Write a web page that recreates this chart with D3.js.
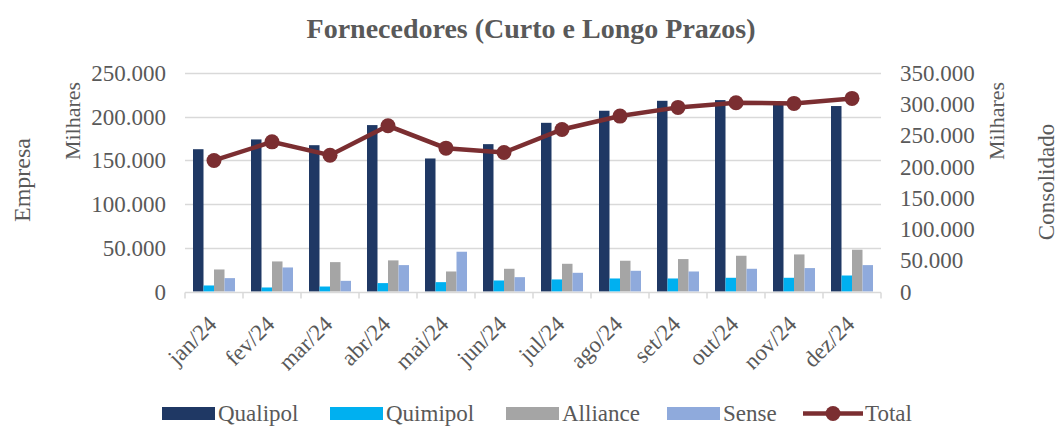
<!DOCTYPE html>
<html>
<head>
<meta charset="utf-8">
<script src="https://cdn.jsdelivr.net/npm/d3@7"></script>
<style>
	body { margin: 0; background: #fff; }
	svg text { font-family: "Liberation Serif", "Times New Roman", serif; fill: #595959; }
</style>
</head>
<body>
<div id="chart-area"></div>
<script>
// Data (values in R$)
let months = ["jan/24", "fev/24", "mar/24", "abr/24", "mai/24", "jun/24", "jul/24", "ago/24", "set/24", "out/24", "nov/24", "dez/24"];
let qualipol = [162800, 174000, 167400, 190400, 152200, 168600, 193000, 206800, 218200, 219000, 216000, 212200];
let quimipol = [6900, 4600, 5700, 9600, 10700, 12600, 13800, 14900, 14900, 15700, 15700, 18300];
let alliance = [25200, 34400, 33600, 35600, 22900, 26000, 31700, 35200, 37100, 40900, 42400, 47800];
let sense = [15300, 27500, 12200, 30200, 45500, 16400, 21400, 23700, 22900, 26000, 26800, 30200];
let total = [209900, 239700, 218300, 265400, 229600, 222600, 259500, 281000, 294900, 302400, 301300, 309300];

let leftTicks = [0, 50000, 100000, 150000, 200000, 250000];
let rightTicks = [0, 50000, 100000, 150000, 200000, 250000, 300000, 350000];

let seriesNames = ["Qualipol", "Quimipol", "Alliance", "Sense"];
let seriesValues = [qualipol, quimipol, alliance, sense];
let colors = ["#1F3864", "#00B0F0", "#A5A5A5", "#8FAADC"];
let lineColor = "#7B2E31";

let width = 1057,
	height = 426;

let margin = {top: 73, right: 176, bottom: 135, left: 185};

let svg = d3.select("#chart-area")
	.append("svg")
	.attr("width", width)
	.attr("height", height);

let fmt = v => d3.format(",")(v).replace(/,/g, ".");

// Scales
let x0 = d3.scaleBand()
	.domain(months)
	.range([margin.left, width - margin.right]);

let groupWidth = 42;
let x1 = d3.scaleBand()
	.domain(seriesNames)
	.range([0, groupWidth]);

let yLeft = d3.scaleLinear()
	.domain([0, 250000])
	.range([height - margin.bottom + 0.5, margin.top]);

let yRight = d3.scaleLinear()
	.domain([0, 350000])
	.range([height - margin.bottom + 0.5, margin.top]);

// Gridlines
svg.append("g")
	.selectAll("line")
	.data(leftTicks.slice(1))
	.enter()
	.append("line")
	.attr("x1", margin.left)
	.attr("x2", width - margin.right)
	.attr("y1", d => Math.round(yLeft(d)) + 0.5)
	.attr("y2", d => Math.round(yLeft(d)) + 0.5)
	.attr("stroke", "#D9D9D9")
	.attr("stroke-width", 1.5);

// Bars
let groups = svg.append("g")
	.selectAll("g")
	.data(months)
	.enter()
	.append("g")
	.attr("transform", d => "translate(" + (x0(d) + (x0.bandwidth() - groupWidth) / 2) + ",0)");

groups.selectAll("rect")
	.data((m, i) => seriesNames.map((s, k) => ({s: s, v: seriesValues[k][i], c: colors[k]})))
	.enter()
	.append("rect")
	.attr("x", d => x1(d.s))
	.attr("width", x1.bandwidth())
	.attr("y", d => yLeft(d.v))
	.attr("height", d => yLeft(0) - yLeft(d.v))
	.attr("fill", d => d.c);

// X axis line with ticks between bands
let baseY = Math.round(yLeft(0)) + 0.5;
svg.append("line")
	.attr("x1", margin.left)
	.attr("x2", width - margin.right)
	.attr("y1", baseY)
	.attr("y2", baseY)
	.attr("stroke", "#D9D9D9")
	.attr("stroke-width", 1.5);

svg.append("g")
	.selectAll("line")
	.data(months.concat(["end"]))
	.enter()
	.append("line")
	.attr("x1", (d, i) => margin.left + i * x0.step())
	.attr("x2", (d, i) => margin.left + i * x0.step())
	.attr("y1", baseY)
	.attr("y2", baseY + 6)
	.attr("stroke", "#D9D9D9")
	.attr("stroke-width", 1.5);

// X labels
svg.append("g")
	.selectAll("text")
	.data(months)
	.enter()
	.append("text")
	.attr("text-anchor", "end")
	.attr("font-size", 23)
	.attr("transform", d => "translate(" + (x0(d) + x0.bandwidth() / 2 + 4) + "," + (baseY + 33) + ")rotate(-45)")
	.text(d => d);

// Left axis labels
svg.append("g")
	.selectAll("text")
	.data(leftTicks)
	.enter()
	.append("text")
	.attr("text-anchor", "end")
	.attr("font-size", 23)
	.attr("x", 166)
	.attr("y", d => yLeft(d) + 8)
	.text(d => fmt(d));

// Right axis labels
svg.append("g")
	.selectAll("text")
	.data(rightTicks)
	.enter()
	.append("text")
	.attr("text-anchor", "start")
	.attr("font-size", 23)
	.attr("x", 900)
	.attr("y", d => yRight(d) + 8)
	.text(d => fmt(d));

// Total line
let line = d3.line()
	.x((d, i) => x0(months[i]) + x0.bandwidth() / 2)
	.y(d => yRight(d));

svg.append("path")
	.datum(total)
	.attr("d", line)
	.attr("fill", "none")
	.attr("stroke", lineColor)
	.attr("stroke-width", 4.5);

svg.append("g")
	.selectAll("circle")
	.data(total)
	.enter()
	.append("circle")
	.attr("cx", (d, i) => x0(months[i]) + x0.bandwidth() / 2)
	.attr("cy", d => yRight(d))
	.attr("r", 7.5)
	.attr("fill", lineColor);

// Title
svg.append("text")
	.attr("x", 531)
	.attr("y", 38)
	.attr("text-anchor", "middle")
	.attr("font-size", 28)
	.attr("font-weight", "bold")
	.text("Fornecedores (Curto e Longo Prazos)");

// Axis titles
let axisTitles = [
	{t: "Empresa", x: 22, y: 180, s: 24},
	{t: "Milhares", x: 72, y: 121, s: 22},
	{t: "Milhares", x: 996, y: 121, s: 22},
	{t: "Consolidado", x: 1046, y: 182, s: 23}
];
svg.append("g")
	.selectAll("text")
	.data(axisTitles)
	.enter()
	.append("text")
	.attr("text-anchor", "middle")
	.attr("dominant-baseline", "central")
	.attr("font-size", d => d.s)
	.attr("transform", d => "translate(" + d.x + "," + d.y + ")rotate(-90)")
	.text(d => d.t);

// Legend
let legendX = [162, 330, 506, 667];
let legend = svg.append("g");
seriesNames.forEach((s, k) => {
	legend.append("rect")
		.attr("x", legendX[k])
		.attr("y", 407)
		.attr("width", 53)
		.attr("height", 13)
		.attr("fill", colors[k]);
	legend.append("text")
		.attr("x", legendX[k] + 56)
		.attr("y", 421)
		.attr("font-size", 23)
		.text(s);
});
legend.append("line")
	.attr("x1", 803)
	.attr("x2", 863)
	.attr("y1", 413.5)
	.attr("y2", 413.5)
	.attr("stroke", lineColor)
	.attr("stroke-width", 4.5);
legend.append("circle")
	.attr("cx", 833)
	.attr("cy", 413.5)
	.attr("r", 7.5)
	.attr("fill", lineColor);
legend.append("text")
	.attr("x", 865)
	.attr("y", 421)
	.attr("font-size", 23)
	.text("Total");
</script>
</body>
</html>
